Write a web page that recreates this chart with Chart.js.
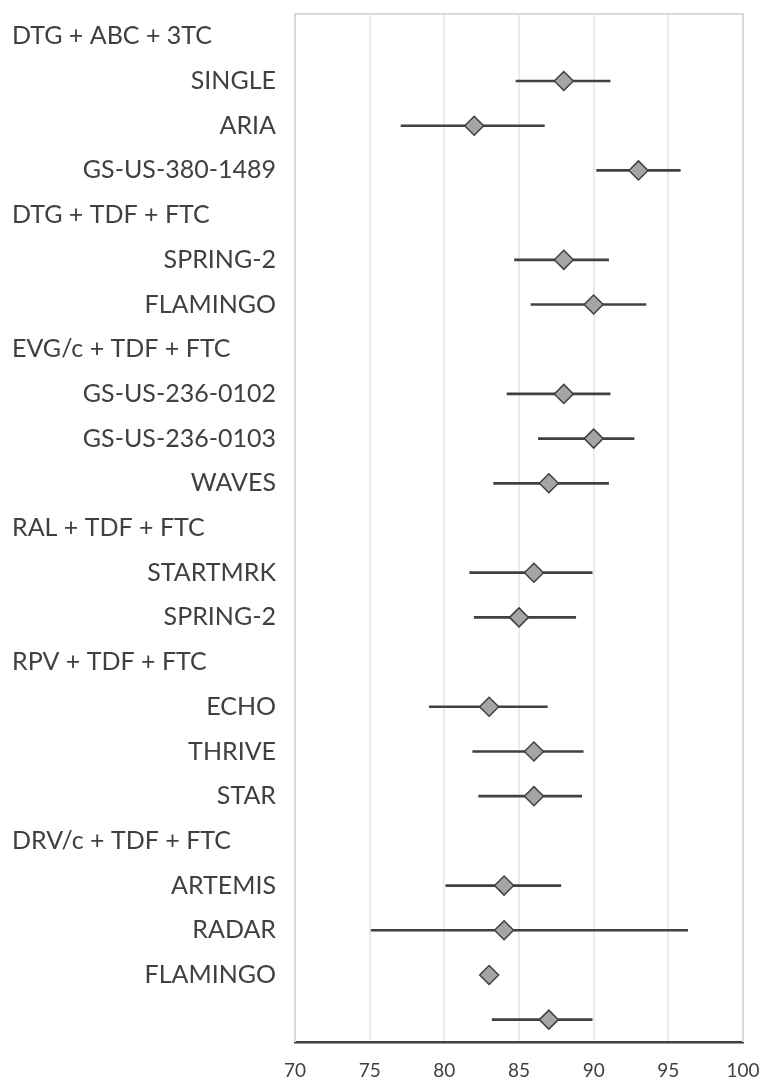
<!DOCTYPE html>
<html>
<head>
<meta charset="utf-8">
<script src="https://cdn.jsdelivr.net/npm/chart.js@4"></script>
<style>
  html, body { margin: 0; padding: 0; background: #fff; }
  #wrap { width: 764px; height: 1079px; position: relative; }
</style>
</head>
<body>
<div id="wrap"><canvas id="chart"></canvas></div>
<script>
// ── data ──
const labels = [
  'DTG + ABC + 3TC', 'SINGLE', 'ARIA', 'GS-US-380-1489',
  'DTG + TDF + FTC', 'SPRING-2', 'FLAMINGO',
  'EVG/c + TDF + FTC', 'GS-US-236-0102', 'GS-US-236-0103', 'WAVES',
  'RAL + TDF + FTC', 'STARTMRK', 'SPRING-2',
  'RPV + TDF + FTC', 'ECHO', 'THRIVE', 'STAR',
  'DRV/c + TDF + FTC', 'ARTEMIS', 'RADAR', 'FLAMINGO',
  ''
];
const groups   = ['DTG + ABC + 3TC', 'DTG + TDF + FTC', 'EVG/c + TDF + FTC', 'RAL + TDF + FTC', 'RPV + TDF + FTC', 'DRV/c + TDF + FTC'];
const estimate = [null, 88, 82, 93, null, 88, 90, null, 88, 90, 87, null, 86, 85, null, 83, 86, 86, null, 84, 84, 83, 87];
const ciLow    = [null, 84.8, 77.1, 90.2, null, 84.7, 85.8, null, 84.2, 86.3, 83.3, null, 81.7, 82.0, null, 79.0, 81.9, 82.3, null, 80.1, 75.1, null, 83.2];
const ciHigh   = [null, 91.1, 86.7, 95.8, null, 91.0, 93.5, null, 91.1, 92.7, 91.0, null, 89.9, 88.8, null, 86.9, 89.3, 89.2, null, 87.8, 96.3, null, 89.9];
const xTicks   = [70, 75, 80, 85, 90, 95, 100];

const TEXT = '#404040';
const FONT = 'Lato';

const isGroup = i => groups.includes(labels[i]);

// light frame on top / left / right of the plot
const framePlugin = {
  id: 'frame',
  beforeDatasetsDraw(chart) {
    const { ctx, chartArea: a } = chart;
    ctx.save();
    ctx.strokeStyle = '#d9d9d9';
    ctx.lineWidth = 2;
    ctx.beginPath();
    ctx.moveTo(a.left, a.bottom);
    ctx.lineTo(a.left, a.top);
    ctx.lineTo(a.right, a.top);
    ctx.lineTo(a.right, a.bottom);
    ctx.stroke();
    ctx.restore();
  }
};

// regimen headers, left aligned
const groupLabels = {
  id: 'groupLabels',
  afterDraw(chart) {
    const { ctx } = chart;
    const y = chart.scales.y;
    ctx.save();
    ctx.font = `25px ${FONT}`;
    ctx.fillStyle = TEXT;
    ctx.textAlign = 'left';
    ctx.textBaseline = 'middle';
    labels.forEach((l, i) => {
      if (isGroup(i)) ctx.fillText(l, 12, y.getPixelForValue(i));
    });
    ctx.restore();
  }
};

new Chart(document.getElementById('chart').getContext('2d'), {
  type: 'bar',
  data: {
    labels,
    datasets: [
      {
        type: 'line',
        label: 'Estimate',
        data: estimate,
        showLine: false,
        pointStyle: 'rectRot',
        pointRadius: 9.5,
        pointBackgroundColor: '#a5a5a5',
        pointBorderColor: '#404040',
        pointBorderWidth: 1.5,
        order: 0
      },
      {
        label: '95% CI',
        data: ciLow.map((lo, i) => lo == null ? null : [lo, ciHigh[i]]),
        backgroundColor: '#404040',
        barThickness: 2,
        order: 1
      }
    ]
  },
  options: {
    indexAxis: 'y',
    responsive: true,
    maintainAspectRatio: false,
    animation: false,
    layout: { padding: { top: 14, right: 21, left: 0, bottom: 0 } },
    plugins: { legend: { display: false }, tooltip: { enabled: false } },
    scales: {
      x: {
        type: 'linear',
        min: xTicks[0],
        max: xTicks[xTicks.length - 1],
        afterBuildTicks: s => { s.ticks = xTicks.map(v => ({ value: v })); },
        afterFit: s => { s.height = 37; s.paddingLeft = 0; s.paddingRight = 0; },
        grid: { color: '#ebebeb', lineWidth: 2, drawTicks: false },
        border: { color: '#404040', width: 2.5 },
        ticks: { color: TEXT, font: { family: FONT, size: 19 }, padding: 17 }
      },
      y: {
        type: 'category',
        afterFit: s => { s.width = 295; s.paddingTop = 0; s.paddingBottom = 0; },
        grid: { display: false, drawTicks: false },
        border: { display: false },
        ticks: {
          autoSkip: false,
          color: TEXT,
          font: { family: FONT, size: 25 },
          padding: 19,
          callback: (v, i) => isGroup(i) ? '' : labels[i]
        }
      }
    }
  },
  plugins: [framePlugin, groupLabels]
});
</script>
</body>
</html>
